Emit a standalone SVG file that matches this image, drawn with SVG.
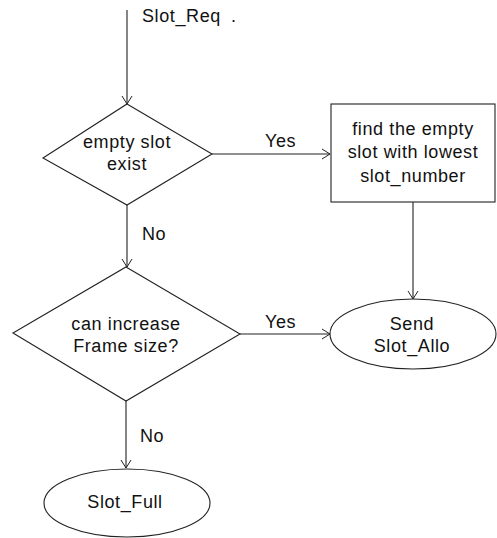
<svg xmlns="http://www.w3.org/2000/svg" width="497" height="538" viewBox="0 0 497 538">
<defs>
<marker id="arr" viewBox="0 0 10 12" refX="9" refY="6" markerWidth="10" markerHeight="12" markerUnits="userSpaceOnUse" orient="auto">
<path d="M1,1 L9,6 L1,11" fill="none" stroke="#222" stroke-width="1"/>
</marker>
<style>
.s{fill:#fff;stroke:#222;stroke-width:1.1}
.c{fill:none;stroke:#222;stroke-width:1.1}
text{font-family:"Liberation Sans",Arial,sans-serif;font-size:18px;fill:#111;letter-spacing:0.6px}
.m{text-anchor:middle}
</style>
</defs>
<rect width="497" height="538" fill="#fff"/>
<g id="connectors">
<line class="c" x1="127" y1="10" x2="127" y2="104" marker-end="url(#arr)"/>
<line class="c" x1="212" y1="154" x2="330" y2="154" marker-end="url(#arr)"/>
<line class="c" x1="127" y1="205" x2="127" y2="267" marker-end="url(#arr)"/>
<line class="c" x1="413" y1="202" x2="413" y2="299" marker-end="url(#arr)"/>
<line class="c" x1="240" y1="334" x2="330" y2="334" marker-end="url(#arr)"/>
<line class="c" x1="126" y1="401" x2="126" y2="468" marker-end="url(#arr)"/>
<text x="142" y="22">Slot_Req</text>
<text x="231" y="22">.</text>
<text x="265" y="147">Yes</text>
<text x="142" y="240">No</text>
<text x="265" y="328">Yes</text>
<text x="140" y="442">No</text>
</g>
<g id="empty_slot">
<polygon class="s" points="127,104 212,154 127,205 43,158"/>
<text class="m" x="127" y="148">empty slot</text>
<text class="m" x="127" y="170">exist</text>
</g>
<g id="find_slot">
<rect class="s" x="331" y="104" width="164" height="98"/>
<text class="m" x="413" y="135">find the empty</text>
<text class="m" x="413" y="158">slot with lowest</text>
<text class="m" x="413" y="182">slot_number</text>
</g>
<g id="can_increase">
<polygon class="s" points="126,267 240,334 126,401 13,333"/>
<text class="m" x="126" y="330">can increase</text>
<text class="m" x="126" y="352">Frame size?</text>
</g>
<g id="send_slot_allo">
<ellipse class="s" cx="413" cy="334" rx="83" ry="35"/>
<text class="m" x="412" y="330">Send</text>
<text class="m" x="412" y="352">Slot_Allo</text>
</g>
<g id="slot_full">
<ellipse class="s" cx="127" cy="503" rx="83" ry="34"/>
<text class="m" x="125" y="508">Slot_Full</text>
</g>
</svg>
